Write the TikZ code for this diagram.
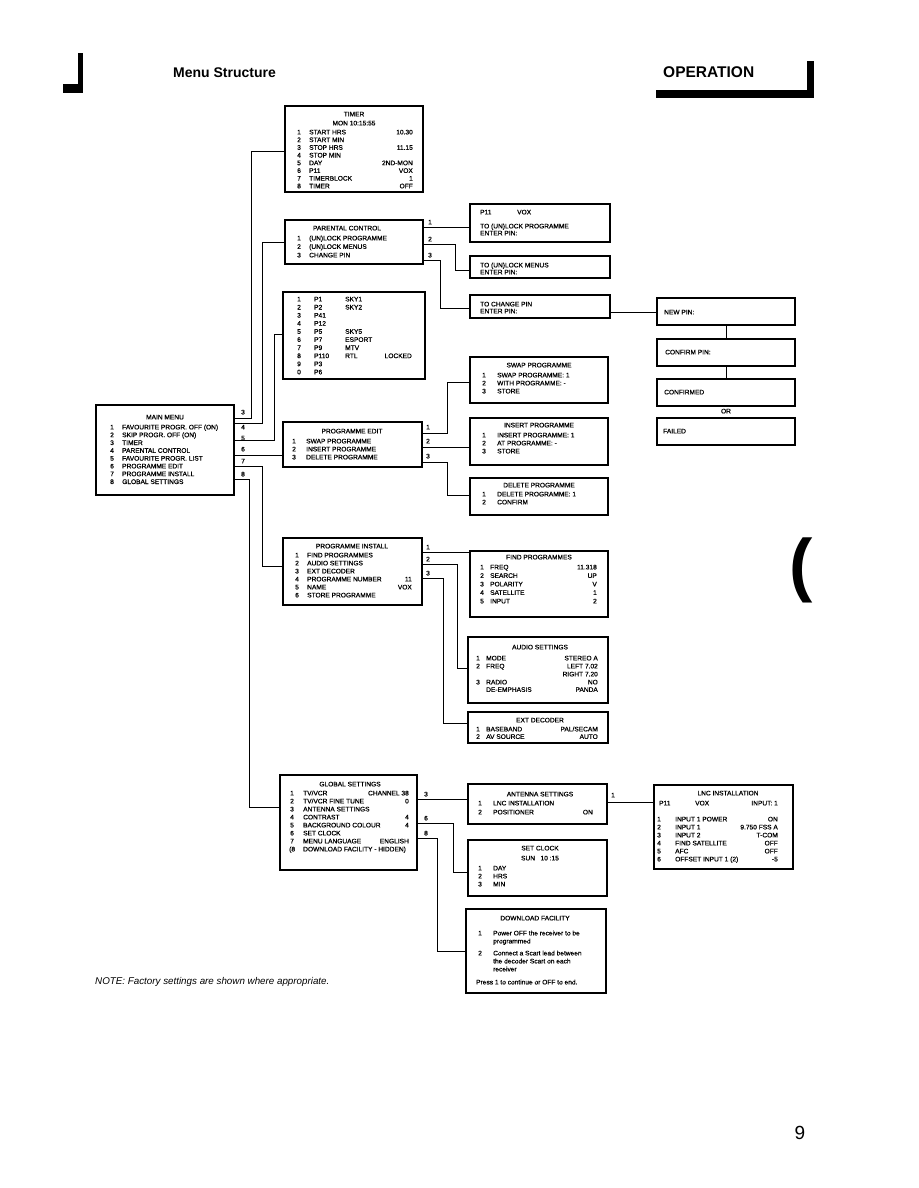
\documentclass[tikz,border=0pt]{standalone}
\usepackage{fontspec}
\setmainfont{Liberation Sans}
\newfontfamily\boxfont[FakeBold=0.7]{Liberation Sans}
\usetikzlibrary{fit}
\newcounter{rc}
\tikzset{
  box/.style={draw, line width=1.2pt, inner sep=0pt},
  conn/.style={draw, line width=0.9pt},
  txt/.style={inner sep=0pt, text height=4.8pt, text depth=0pt, font=\boxfont\fontsize{6.6}{8}\selectfont},
}
\newcommand\tx[4][west]{\stepcounter{rc}\node[txt,anchor=#1] (tx\the\value{rc}) at (#2,#3) {#4};}
\newcommand\rw[7]{\stepcounter{rc}%
  \node[txt,anchor=west] (rn\the\value{rc}) at (#2,#1) {#5};%
  \node[txt,anchor=west] (rl\the\value{rc}) at (#3,#1) {#6};%
  \node[txt,anchor=east] (rv\the\value{rc}) at (#4,#1) {#7};}
\newcommand\bx[5]{\node[box,fit={(#2,#3) (#4,#5)}] (#1) {};}
\begin{document}
\begin{tikzpicture}[x=1pt,y=-1pt]
\useasboundingbox (0,0) rectangle (918,1188);
% header
\fill (78,53) rectangle (83,93);
\fill (63,84) rectangle (83,93);
\node[font=\bfseries\fontsize{14}{16}\selectfont, anchor=west, inner sep=0pt] (hdr) at (173,73) {Menu Structure};
\node[font=\bfseries\fontsize{15.5}{18}\selectfont, anchor=west, inner sep=0pt] (oper) at (663,72) {OPERATION};
\fill (656,90) rectangle (814,98);
\fill (807,61) rectangle (814,98);

% boxes
\bx{timer}{285}{106}{423}{192}
\bx{par}{285}{220}{423}{264}
\bx{p11}{470}{204}{610}{242}
\bx{umenu}{470}{256}{610}{278}
\bx{cpin}{470}{295}{610}{318}
\bx{npin}{657}{298}{795}{325}
\bx{cfpin}{657}{339}{795}{366}
\bx{cfd}{657}{379}{795}{406}
\bx{fail}{657}{418}{795}{445}
\bx{chan}{283}{292}{425}{379}
\bx{main}{96}{405}{234}{495}
\bx{pedit}{283}{422}{422}{467}
\bx{swap}{470}{357}{608}{403}
\bx{ins}{470}{418}{608}{465}
\bx{del}{470}{478}{608}{515}
\bx{pinst}{283}{538}{422}{605}
\bx{find}{470}{551}{608}{617}
\bx{audio}{468}{637}{608}{703}
\bx{ext}{468}{712}{608}{743}
\bx{glob}{280}{775}{417}{870}
\bx{ant}{468}{784}{607}{824}
\bx{clock}{468}{840}{607}{896}
\bx{dl}{466}{909}{606}{993}
\bx{lnc}{654}{785}{793}{869}

% timer
\tx[center]{354}{114}{TIMER}
\tx[center]{354}{123}{MON 10:15:55}
\rw{132}{297}{309}{413}{1}{START HRS}{10.30}
\rw{139.7}{297}{309}{413}{2}{START MIN}{}
\rw{147.4}{297}{309}{413}{3}{STOP HRS}{11.15}
\rw{155.1}{297}{309}{413}{4}{STOP MIN}{}
\rw{162.8}{297}{309}{413}{5}{DAY}{2ND-MON}
\rw{170.5}{297}{309}{413}{6}{P11}{VOX}
\rw{178.2}{297}{309}{413}{7}{TIMERBLOCK}{1}
\rw{185.9}{297}{309}{413}{8}{TIMER}{OFF}

% parental
\tx[center]{347}{228}{PARENTAL CONTROL}
\rw{238}{297}{309}{413}{1}{(UN)LOCK PROGRAMME}{}
\rw{246.5}{297}{309}{413}{2}{(UN)LOCK MENUS}{}
\rw{255}{297}{309}{413}{3}{CHANGE PIN}{}
\tx[center]{430}{222}{1}
\tx[center]{430}{239}{2}
\tx[center]{430}{255}{3}

\tx{480}{212}{P11}
\tx{517}{212}{VOX}
\tx{480}{226}{TO (UN)LOCK PROGRAMME}
\tx{480}{233}{ENTER PIN:}
\tx{480}{265}{TO (UN)LOCK MENUS}
\tx{480}{272}{ENTER PIN:}
\tx{480}{304}{TO CHANGE PIN}
\tx{480}{311}{ENTER PIN:}

\tx{664}{312}{NEW PIN:}
\tx{665}{352}{CONFIRM PIN:}
\tx{664}{392}{CONFIRMED}
\tx[center]{726}{411}{OR}
\tx{663}{431}{FAILED}

% channel list
\rw{299}{297}{314}{412}{1}{P1}{}  \tx{345}{299}{SKY1}
\rw{307.1}{297}{314}{412}{2}{P2}{} \tx{345}{307.1}{SKY2}
\rw{315.2}{297}{314}{412}{3}{P41}{}
\rw{323.3}{297}{314}{412}{4}{P12}{}
\rw{331.4}{297}{314}{412}{5}{P5}{} \tx{345}{331.4}{SKY5}
\rw{339.5}{297}{314}{412}{6}{P7}{} \tx{345}{339.5}{ESPORT}
\rw{347.6}{297}{314}{412}{7}{P9}{} \tx{345}{347.6}{MTV}
\rw{355.7}{297}{314}{412}{8}{P110}{LOCKED} \tx{345}{355.7}{RTL}
\rw{363.8}{297}{314}{412}{9}{P3}{}
\rw{371.9}{297}{314}{412}{0}{P6}{}

% main menu
\tx[center]{165}{417}{MAIN MENU}
\rw{427}{110}{122}{230}{1}{FAVOURITE PROGR. OFF (ON)}{}
\rw{434.8}{110}{122}{230}{2}{SKIP PROGR. OFF (ON)}{}
\rw{442.6}{110}{122}{230}{3}{TIMER}{}
\rw{450.4}{110}{122}{230}{4}{PARENTAL CONTROL}{}
\rw{458.2}{110}{122}{230}{5}{FAVOURITE PROGR. LIST}{}
\rw{466}{110}{122}{230}{6}{PROGRAMME EDIT}{}
\rw{473.8}{110}{122}{230}{7}{PROGRAMME INSTALL}{}
\rw{481.6}{110}{122}{230}{8}{GLOBAL SETTINGS}{}
\tx[center]{243}{412}{3}
\tx[center]{243}{427}{4}
\tx[center]{243}{438}{5}
\tx[center]{243}{449}{6}
\tx[center]{243}{461}{7}
\tx[center]{243}{474}{8}

% programme edit
\tx[center]{352}{431}{PROGRAMME EDIT}
\rw{441}{292}{306}{412}{1}{SWAP PROGRAMME}{}
\rw{449}{292}{306}{412}{2}{INSERT PROGRAMME}{}
\rw{457}{292}{306}{412}{3}{DELETE PROGRAMME}{}
\tx[center]{428}{427}{1}
\tx[center]{428}{441}{2}
\tx[center]{428}{456}{3}

\tx[center]{539}{365}{SWAP PROGRAMME}
\rw{375}{482}{497}{600}{1}{SWAP PROGRAMME: 1}{}
\rw{383}{482}{497}{600}{2}{WITH PROGRAMME: -}{}
\rw{391}{482}{497}{600}{3}{STORE}{}
\tx[center]{539}{425}{INSERT PROGRAMME}
\rw{435}{482}{497}{600}{1}{INSERT PROGRAMME: 1}{}
\rw{443}{482}{497}{600}{2}{AT PROGRAMME: -}{}
\rw{451}{482}{497}{600}{3}{STORE}{}
\tx[center]{539}{485}{DELETE PROGRAMME}
\rw{494}{482}{497}{600}{1}{DELETE PROGRAMME: 1}{}
\rw{502}{482}{497}{600}{2}{CONFIRM}{}

% programme install
\tx[center]{352}{546}{PROGRAMME INSTALL}
\rw{555}{295}{307}{412}{1}{FIND PROGRAMMES}{}
\rw{563}{295}{307}{412}{2}{AUDIO SETTINGS}{}
\rw{571}{295}{307}{412}{3}{EXT DECODER}{}
\rw{579}{295}{307}{412}{4}{PROGRAMME NUMBER}{11}
\rw{587}{295}{307}{412}{5}{NAME}{VOX}
\rw{595}{295}{307}{412}{6}{STORE PROGRAMME}{}
\tx[center]{428}{547}{1}
\tx[center]{428}{559}{2}
\tx[center]{428}{573}{3}

\tx[center]{539}{557}{FIND PROGRAMMES}
\rw{567}{480}{490}{597}{1}{FREQ}{11.318}
\rw{575.5}{480}{490}{597}{2}{SEARCH}{UP}
\rw{584}{480}{490}{597}{3}{POLARITY}{V}
\rw{592.5}{480}{490}{597}{4}{SATELLITE}{1}
\rw{601}{480}{490}{597}{5}{INPUT}{2}

\tx[center]{540}{647}{AUDIO SETTINGS}
\rw{658}{476}{486}{598}{1}{MODE}{STEREO A}
\rw{666}{476}{486}{598}{2}{FREQ}{LEFT 7.02}
\tx[east]{598}{674}{RIGHT 7.20}
\rw{682}{476}{486}{598}{3}{RADIO}{NO}
\rw{689.5}{476}{486}{598}{}{DE-EMPHASIS}{PANDA}

\tx[center]{540}{720}{EXT DECODER}
\rw{729}{476}{486}{598}{1}{BASEBAND}{PAL/SECAM}
\rw{736.5}{476}{486}{598}{2}{AV SOURCE}{AUTO}

% global settings
\tx[center]{350}{784}{GLOBAL SETTINGS}
\rw{793}{290}{303}{409}{1}{TV/VCR}{CHANNEL 38}
\rw{801}{290}{303}{409}{2}{TV/VCR FINE TUNE}{0}
\rw{809}{290}{303}{409}{3}{ANTENNA SETTINGS}{}
\rw{817}{290}{303}{409}{4}{CONTRAST}{4}
\rw{825}{290}{303}{409}{5}{BACKGROUND COLOUR}{4}
\rw{833}{290}{303}{409}{6}{SET CLOCK}{}
\rw{841}{290}{303}{409}{7}{MENU LANGUAGE}{ENGLISH}
\rw{849}{289}{303}{409}{(8}{DOWNLOAD FACILITY - HIDDEN)}{}
\tx[center]{426}{794}{3}
\tx[center]{426}{818}{6}
\tx[center]{426}{833}{8}

\tx[center]{540}{794}{ANTENNA SETTINGS}
\rw{803}{478}{493}{593}{1}{LNC INSTALLATION}{}
\rw{812}{478}{493}{593}{2}{POSITIONER}{ON}
\tx[center]{613}{795}{1}

\tx[center]{540}{848}{SET CLOCK}
\tx[center]{540}{858}{SUN\ \ \ 10 :15}
\rw{868}{478}{493}{593}{1}{DAY}{}
\rw{876}{478}{493}{593}{2}{HRS}{}
\rw{884}{478}{493}{593}{3}{MIN}{}

\tx[center]{535}{918}{DOWNLOAD FACILITY}
\rw{933}{478}{493}{600}{1}{Power OFF the receiver to be}{}
\tx{493}{941}{programmed}
\rw{953}{478}{493}{600}{2}{Connect a Scart lead between}{}
\tx{493}{961}{the decoder Scart on each}
\tx{493}{969}{receiver}
\tx{476}{982}{Press 1 to continue or OFF to end.}

\tx[center]{728}{793}{LNC INSTALLATION}
\tx{659}{803}{P11}
\tx{695}{803}{VOX}
\tx[east]{778}{803}{INPUT: 1}
\rw{819}{657}{675}{778}{1}{INPUT 1 POWER}{ON}
\rw{827}{657}{675}{778}{2}{INPUT 1}{9.750 FSS A}
\rw{835}{657}{675}{778}{3}{INPUT 2}{T-COM}
\rw{843}{657}{675}{778}{4}{FIND SATELLITE}{OFF}
\rw{851}{657}{675}{778}{5}{AFC}{OFF}
\rw{859}{657}{675}{778}{6}{OFFSET INPUT 1 (2)}{-5}

% connectors
\draw[conn] (main.east |- 0,418) -| (251,151) -- (timer.west |- 0,151);
\draw[conn] (main.east |- 0,423) -| (262,242) -- (par.west |- 0,242);
\draw[conn] (main.east |- 0,440) -| (274,334) -- (chan.west |- 0,334);
\draw[conn] (main.east |- 0,455) -- (pedit.west |- 0,455);
\draw[conn] (main.east |- 0,466) -| (262,566) -- (pinst.west |- 0,566);
\draw[conn] (main.east |- 0,479) -| (249,807) -- (glob.west |- 0,807);

\draw[conn] (par.east |- 0,227) -- (p11.west |- 0,227);
\draw[conn] (par.east |- 0,244) -| (455,270) -- (umenu.west |- 0,270);
\draw[conn] (par.east |- 0,260) -| (440,308) -- (cpin.west |- 0,308);
\draw[conn] (cpin.east |- 0,312) -- (npin.west |- 0,312);
\draw[conn] (npin.south -| 726,0) -- (cfpin.north -| 726,0);
\draw[conn] (cfpin.south -| 726,0) -- (cfd.north -| 726,0);

\draw[conn] (pedit.east |- 0,433) -| (447,382) -- (swap.west |- 0,382);
\draw[conn] (pedit.east |- 0,447) -- (ins.west |- 0,447);
\draw[conn] (pedit.east |- 0,462) -| (447,495) -- (del.west |- 0,495);

\draw[conn] (pinst.east |- 0,552) -- (find.west |- 0,552);
\draw[conn] (pinst.east |- 0,564) -| (457,668) -- (audio.west |- 0,668);
\draw[conn] (pinst.east |- 0,578) -| (443,723) -- (ext.west |- 0,723);

\draw[conn] (glob.east |- 0,799) -- (ant.west |- 0,799);
\draw[conn] (glob.east |- 0,823) -| (453,872) -- (clock.west |- 0,872);
\draw[conn] (glob.east |- 0,838) -| (437,951) -- (dl.west |- 0,951);
\draw[conn] (ant.east |- 0,802) -- (lnc.west |- 0,802);

% other page marks
\node[font=\itshape\fontsize{9.8}{12}\selectfont, anchor=west, inner sep=0pt] (note) at (95,982) {NOTE: Factory settings are shown where appropriate.};
\node[font=\bfseries\fontsize{70}{70}\selectfont, inner sep=0pt] (paren) at (801,570) {(};
\node[font=\fontsize{19}{20}\selectfont, inner sep=0pt] (pagenum) at (800,1133) {9};
\end{tikzpicture}
\end{document}
